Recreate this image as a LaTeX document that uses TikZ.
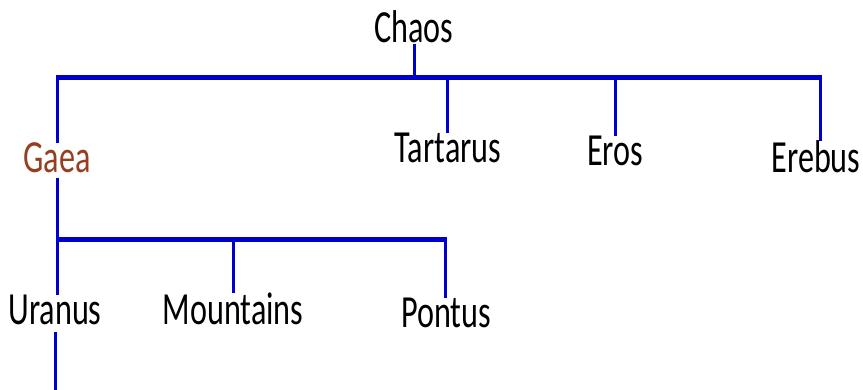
\documentclass[tikz,border=0pt]{standalone}
\usepackage{fontspec}
\setmainfont{Carlito}[FakeStretch=0.7]
\usepackage{tikz}
\definecolor{barblue}{RGB}{0,0,205}
\definecolor{gaeabrown}{RGB}{150,62,32}

\begin{document}
\begin{tikzpicture}[x=1pt,y=-1pt]
	\tikzset{godname/.style={inner sep=0pt,anchor=base,font=\fontsize{46}{50}\selectfont},
		bar/.style={barblue,line width=5pt},
		drop/.style={barblue,line width=3pt}}
	\useasboundingbox (0,0) rectangle (863,390);
	
	\node[godname] (chaos) at (414,43) {Chaos};
	\node[godname,gaeabrown] (gaea) at (57,173) {Gaea};
	\node[godname] (tartarus) at (448,163) {Tartarus};
	\node[godname] (eros) at (615,166) {Eros};
	\node[godname] (erebus) at (816,173) {Erebus};
	\node[godname] (uranus) at (55,325) {Uranus};
	\node[godname] (mountains) at (233,325) {Mountains};
	\node[godname] (pontus) at (446,328) {Pontus};
	
	%\coordinate (j0) at (415,78);
	\coordinate (j1) at (57,78);\coordinate (j2) at (447,78);\coordinate (j3) at (615,78);\coordinate (j4) at (820,78);
	\coordinate (k1) at (57,240);\coordinate (k2) at (233,240);\coordinate (k3) at (445,240);
	\coordinate (uend) at (55,390);
	
	\draw [bar] ([xshift=-1.5pt]j1) -- ([xshift=1.5pt]j4);
	\draw [drop] (chaos.south) -- (chaos.south |- j1);
	\draw [drop] (j1) -- (j1 |- gaea.north);
	\draw [drop] (j2) -- (j2 |- tartarus.north);
	\draw [drop] (j3) -- (j3 |- eros.north);
	\draw [drop] (j4) -- (j4 |- erebus.north);
	
	\draw [drop, shorten <=4pt] (gaea.south) -- (k1);
	\draw [bar] ([xshift=-1.5pt]k1) -- ([xshift=1.5pt]k3);
	\draw [drop] (k1) -- (k1 |- uranus.north);
	\draw [drop] (k2) -- (k2 |- mountains.north);
	\draw [drop] (k3) -- (k3 |- pontus.north);
	
	\draw [drop, shorten <=6pt] (uranus.south) -- (uend);
\end{tikzpicture}
\end{document}
